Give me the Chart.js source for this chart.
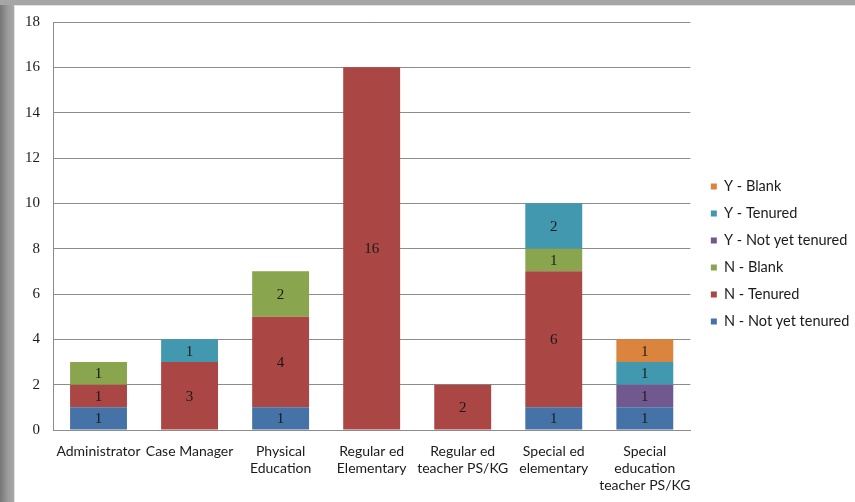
<!DOCTYPE html>
<html>
<head>
<meta charset="utf-8">
<script src="https://cdn.jsdelivr.net/npm/chart.js@4.4.0/dist/chart.umd.min.js"></script>
<style>
    html, body { margin: 0; padding: 0; }
    body {
        width: 855px;
        height: 502px;
        overflow: hidden;
        background: linear-gradient(to right, #767676 0px, #9c9c9c 8px, #a8a8a8 14px);
        position: relative;
    }
    #topband {
        position: absolute;
        left: 0; top: 0;
        width: 855px; height: 5px;
        background: #a6a6a6;
    }
    #frame {
        position: absolute;
        left: 14px;
        top: 5px;
        width: 841px;
        height: 497px;
        background: #ffffff;
        border-top: 1px solid #e2e2e2;
        border-left: 1px solid #e2e2e2;
        box-sizing: border-box;
    }
    canvas { display: block; }
</style>
</head>
<body>
<div id="topband"></div>
<div id="frame"><canvas id="chart" width="840" height="496"></canvas></div>
<script>
// Staff counts by position, split by response / tenure status
const categories = [
    'Administrator',
    'Case Manager',
    ['Physical', 'Education'],
    ['Regular ed', 'Elementary'],
    ['Regular ed', 'teacher PS/KG'],
    ['Special ed', 'elementary'],
    ['Special', 'education', 'teacher PS/KG']
];

const nNotYetTenured = [1, 0, 1, 0, 0, 1, 1];
const nTenured       = [1, 3, 4, 16, 2, 6, 0];
const nBlank         = [1, 0, 2, 0, 0, 1, 0];
const yNotYetTenured = [0, 0, 0, 0, 0, 0, 1];
const yTenured       = [0, 1, 0, 0, 0, 2, 1];
const yBlank         = [0, 0, 0, 0, 0, 0, 1];

const yTicks = [0, 2, 4, 6, 8, 10, 12, 14, 16, 18];

const palette = {
    blue: '#4572a7',
    red: '#aa4643',
    green: '#89a54e',
    purple: '#71588f',
    teal: '#4198af',
    orange: '#db843d'
};

const series = [
    { label: 'N - Not yet tenured', data: nNotYetTenured, color: palette.blue },
    { label: 'N - Tenured',         data: nTenured,       color: palette.red },
    { label: 'N - Blank',           data: nBlank,         color: palette.green },
    { label: 'Y - Not yet tenured', data: yNotYetTenured, color: palette.purple },
    { label: 'Y - Tenured',         data: yTenured,       color: palette.teal },
    { label: 'Y - Blank',           data: yBlank,         color: palette.orange }
];

// Writes the value in the middle of every non-empty segment
const segmentLabels = {
    id: 'segmentLabels',
    afterDatasetsDraw(chart) {
        const ctx = chart.ctx;
        ctx.save();
        ctx.font = '15px "Liberation Serif", serif';
        ctx.fillStyle = '#1a1a1a';
        ctx.textAlign = 'center';
        ctx.textBaseline = 'middle';
        chart.data.datasets.forEach((ds, i) => {
            const meta = chart.getDatasetMeta(i);
            meta.data.forEach((bar, j) => {
                const v = ds.data[j];
                if (!v) return;
                ctx.fillText(String(v), bar.x, (bar.y + bar.base) / 2 + 1);
            });
        });
        ctx.restore();
    }
};

// The vertical legend starts its items one label padding in from the left,
// so widen its box by that much or the longest label gets clipped
const legendRoom = {
    id: 'legendRoom',
    beforeLayout(chart) {
        const lg = chart.legend;
        if (!lg || lg._roomy) return;
        const fit = lg.fit;
        lg.fit = function () {
            fit.call(this);
            this.width += this.options.labels.padding;
        };
        lg._roomy = true;
    }
};

function drawChart() {
    new Chart(document.getElementById('chart'), {
        type: 'bar',
        data: {
            labels: categories,
            datasets: series.map(s => ({
                label: s.label,
                data: s.data,
                backgroundColor: s.color,
                borderWidth: 0,
                categoryPercentage: 0.625,
                barPercentage: 1
            }))
        },
        options: {
            responsive: false,
            animation: false,
            layout: {
                padding: { top: 0, right: 5, bottom: 0, left: 0 }
            },
            plugins: {
                legend: {
                    position: 'right',
                    reverse: true,
                    labels: {
                        boxWidth: 6,
                        boxHeight: 6,
                        padding: 12.5,
                        color: '#1a1a1a',
                        font: { family: 'Lato', size: 14.5 }
                    }
                },
                tooltip: { enabled: false }
            },
            scales: {
                x: {
                    stacked: true,
                    grid: { display: false },
                    border: { color: '#8c8c8c', width: 1 },
                    ticks: {
                        color: '#1a1a1a',
                        padding: 5,
                        maxRotation: 0,
                        autoSkip: false,
                        font: { family: 'Lato', size: 14, lineHeight: 1.22 }
                    },
                    afterFit(scale) { scale.height = 72; }
                },
                // empty strip above the plot
                top: {
                    position: 'top',
                    display: true,
                    grid: { display: false },
                    border: { display: false },
                    ticks: { display: false },
                    afterFit(scale) { scale.height = 16; }
                },
                y: {
                    stacked: true,
                    min: 0,
                    max: 18,
                    afterBuildTicks(scale) {
                        scale.ticks = yTicks.map(v => ({ value: v }));
                    },
                    // invisible tick marks keep the labels away from the axis
                    grid: {
                        color: '#8c8c8c',
                        lineWidth: 1,
                        drawTicks: true,
                        tickLength: 13,
                        tickColor: 'rgba(0,0,0,0)'
                    },
                    border: { color: '#8c8c8c', width: 1 },
                    ticks: {
                        color: '#1a1a1a',
                        padding: 0,
                        font: { family: '"Liberation Serif", serif', size: 15 }
                    },
                    afterFit(scale) { scale.width = 38; }
                },
                // empty spacer between the plot and the legend
                gap: {
                    position: 'right',
                    display: true,
                    grid: { display: false },
                    border: { display: false },
                    ticks: { display: false },
                    afterFit(scale) { scale.width = 8; }
                }
            }
        },
        plugins: [segmentLabels, legendRoom]
    });
}

// make sure the canvas measures text with the real fonts
Promise.all([
    document.fonts.load('14.5px Lato'),
    document.fonts.load('15px "Liberation Serif"')
]).then(drawChart, drawChart);
</script>
</body>
</html>
